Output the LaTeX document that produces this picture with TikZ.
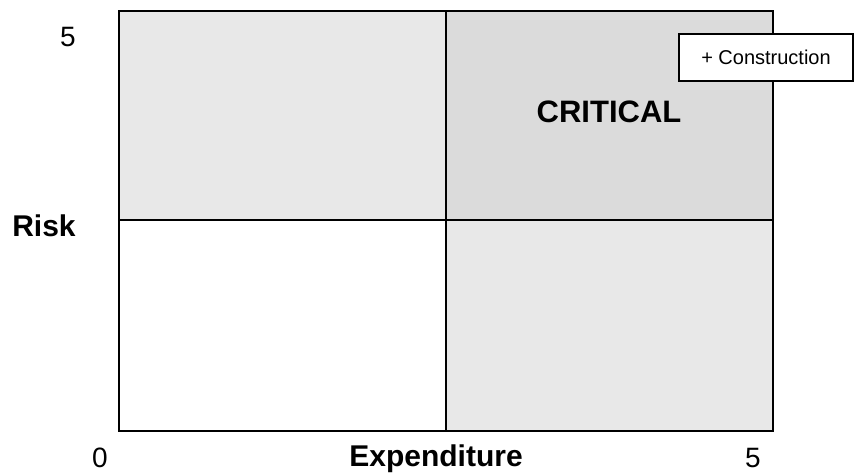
\documentclass[tikz,border=0pt]{standalone}
\usepackage{fontspec}
\setmainfont{Liberation Sans}
\begin{document}
\begin{tikzpicture}[x=1pt,y=-1pt,
  quad/.style={draw=black,line width=2pt},
  axislabel/.style={font=\fontsize{30}{32}\selectfont\bfseries,inner sep=0pt},
  ticklabel/.style={font=\fontsize{28}{30}\selectfont,inner sep=0pt},
  tagbox/.style={draw=black,line width=1.5pt,fill=white,minimum width=174pt,minimum height=47pt,inner sep=0pt,font=\fontsize{20}{22}\selectfont}]
  \useasboundingbox (0,0) rectangle (856,476);
  % quadrant fills
  \fill[gray!18] (119,11) rectangle (446,220);
  \fill[gray!28] (446,11) rectangle (773,220);
  \fill[gray!18] (446,220) rectangle (773,431);
  % grid
  \draw[quad] (119,11) rectangle (773,431);
  \draw[quad] (446,11) -- (446,431);
  \draw[quad] (119,220) -- (773,220);
  % labels
  \node[ticklabel] (ymax) at (68,37) {5};
  \node[axislabel] (ylab) at (44,226) {Risk};
  \node[ticklabel] (orig) at (100,458) {0};
  \node[axislabel] (xlab) at (436,459) {Expenditure};
  \node[ticklabel] (xmax) at (753,458) {5};
  \node[axislabel,font=\fontsize{31}{33}\selectfont\bfseries] (crit) at (609,112) {CRITICAL};
  \node[tagbox] (tag) at (766,57.5) {+ Construction};
\end{tikzpicture}
\end{document}
